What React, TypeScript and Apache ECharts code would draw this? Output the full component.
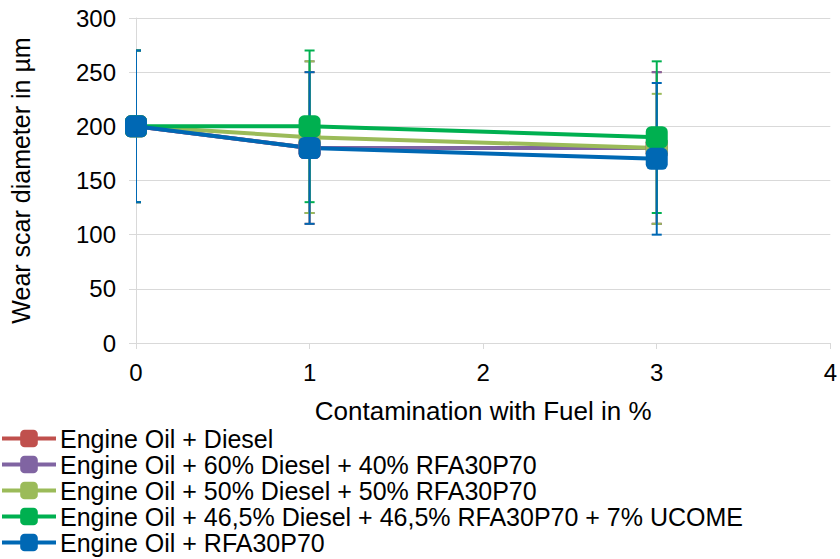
import React, { useEffect, useRef } from "react";
import * as echarts from "echarts";

const xValues = [0, 1, 3];
const seriesNames = [
  "Engine Oil + Diesel",
  "Engine Oil + 60% Diesel + 40% RFA30P70",
  "Engine Oil + 50% Diesel + 50% RFA30P70",
  "Engine Oil + 46,5% Diesel + 46,5% RFA30P70 + 7% UCOME",
  "Engine Oil + RFA30P70",
];
const colors = ["#C0504D", "#8064A2", "#9BBB59", "#00B050", "#0068B4"];
const means = [
  [200, 180, 180],
  [200, 180, 180],
  [200, 190, 180],
  [200, 200, 190],
  [200, 180, 170],
];
const lows = [
  [130, 110, 110],
  [130, 120, 110],
  [130, 120, 110],
  [130, 130, 120],
  [130, 110, 100],
];
const highs = [
  [270, 250, 250],
  [270, 260, 250],
  [270, 260, 230],
  [270, 270, 260],
  [270, 250, 240],
];

const FONT = "Liberation Sans, Arial, sans-serif";

export default function App() {
  const ref = useRef<HTMLDivElement>(null);
  useEffect(() => {
    if (!ref.current) return;
    const chart = echarts.init(ref.current, undefined, { renderer: "svg" });
    const series: any[] = [];
    seriesNames.forEach((name, i) => {
      series.push({
        name: name + " error",
        type: "custom",
        clip: true,
        z: 1,
        data: xValues.map((x, j) => [x, lows[i][j], highs[i][j]]),
        renderItem: (params: any, api: any) => {
          const x = api.value(0);
          const lo = api.coord([x, api.value(1)]);
          const hi = api.coord([x, api.value(2)]);
          const w = 5;
          const style = { stroke: colors[i], lineWidth: 2 };
          return {
            type: "group",
            children: [
              { type: "line", shape: { x1: lo[0], y1: lo[1], x2: hi[0], y2: hi[1] }, style },
              { type: "line", shape: { x1: lo[0] - w, y1: lo[1], x2: lo[0] + w, y2: lo[1] }, style },
              { type: "line", shape: { x1: hi[0] - w, y1: hi[1], x2: hi[0] + w, y2: hi[1] }, style },
            ],
          };
        },
      });
    });
    seriesNames.forEach((name, i) => {
      series.push({
        name,
        type: "line",
        z: 3,
        data: xValues.map((x, j) => [x, means[i][j]]),
        symbol: "roundRect",
        symbolSize: 22,
        lineStyle: { width: 4, color: colors[i] },
        itemStyle: { color: colors[i] },
      });
    });
    chart.setOption({
      animation: false,
      textStyle: { fontFamily: FONT },
      grid: { left: 136, right: 4, top: 18, bottom: 216 },
      legend: {
        data: seriesNames,
        orient: "vertical",
        left: 0,
        top: 426,
        padding: 0,
        itemGap: 1,
        itemWidth: 54,
        itemHeight: 22,
        lineStyle: { width: 4 },
        textStyle: { fontSize: 25, color: "#000", fontFamily: FONT, padding: [0, 0, 0, -1] },
      },
      xAxis: {
        type: "value",
        min: 0,
        max: 4,
        interval: 1,
        name: "Contamination with Fuel in %",
        nameLocation: "middle",
        nameGap: 55,
        nameTextStyle: { fontSize: 26, color: "#000", fontFamily: FONT },
        axisLine: { show: true, lineStyle: { color: "#D9D9D9", width: 1 } },
        axisTick: { show: true, length: 6, lineStyle: { color: "#D9D9D9" } },
        axisLabel: { fontSize: 24, color: "#000", margin: 17, fontFamily: FONT },
        splitLine: { show: false },
      },
      yAxis: {
        type: "value",
        min: 0,
        max: 300,
        interval: 50,
        name: "Wear scar diameter in µm",
        nameLocation: "middle",
        nameGap: 103,
        nameTextStyle: { fontSize: 25, color: "#000", fontFamily: FONT },
        axisLine: { show: true, lineStyle: { color: "#D9D9D9", width: 1 } },
        axisTick: { show: true, length: 7, lineStyle: { color: "#D9D9D9" } },
        axisLabel: { fontSize: 24, color: "#000", margin: 20, fontFamily: FONT },
        splitLine: { show: true, lineStyle: { color: "#D9D9D9", width: 1 } },
      },
      series,
    });
    return () => chart.dispose();
  }, []);
  return <div ref={ref} style={{ width: 840, height: 559, position: "absolute", left: 0, top: 0 }} />;
}
